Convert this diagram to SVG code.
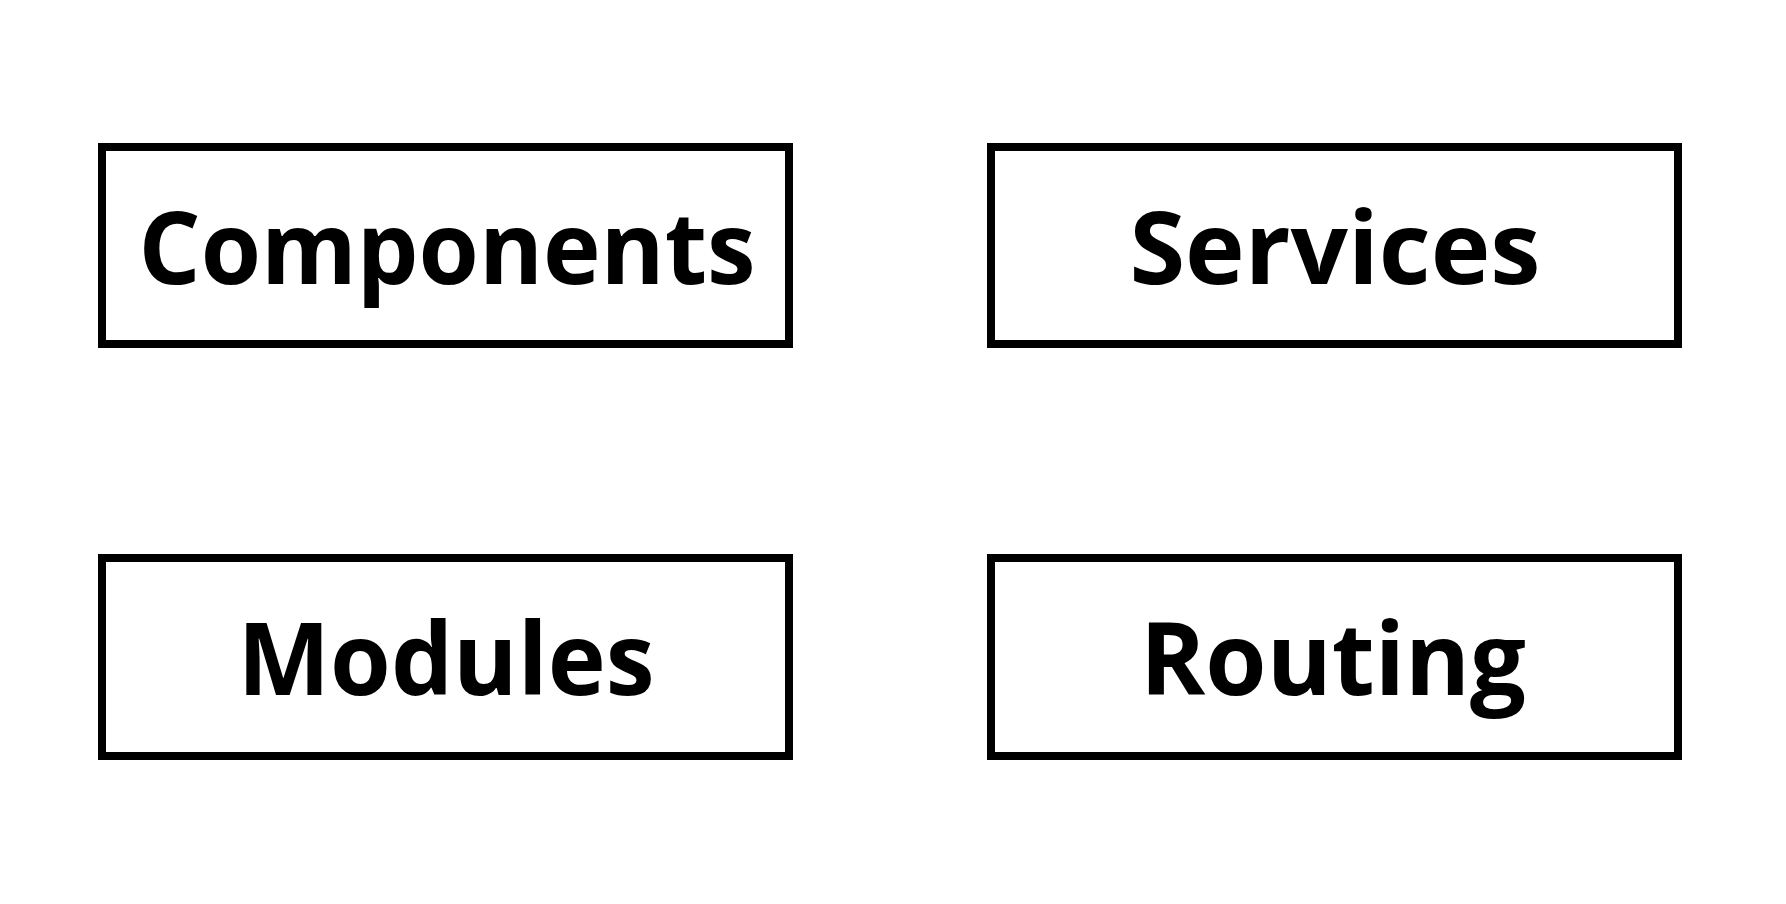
<svg xmlns="http://www.w3.org/2000/svg" width="1786" height="904" viewBox="0 0 1786 904">
<style>
.box{fill:#fff;stroke:#000;stroke-width:8}
.lbl{font-family:"Open Sans","Noto Sans",sans-serif;font-weight:700;font-size:100px;fill:#000;text-anchor:middle}
</style>
<rect width="1786" height="904" fill="#fff"/>
<g id="connectors"></g>
<g id="components"><rect class="box" x="102" y="147" width="687" height="197"/><text class="lbl" x="447" y="284" textLength="617" lengthAdjust="spacingAndGlyphs">Components</text></g>
<g id="services"><rect class="box" x="991" y="147" width="687" height="197"/><text class="lbl" x="1335" y="284" textLength="411" lengthAdjust="spacingAndGlyphs">Services</text></g>
<g id="modules"><rect class="box" x="102" y="558" width="687" height="198"/><text class="lbl" x="446" y="695" textLength="417" lengthAdjust="spacingAndGlyphs">Modules</text></g>
<g id="routing"><rect class="box" x="991" y="558" width="687" height="198"/><text class="lbl" x="1333" y="695" textLength="386" lengthAdjust="spacingAndGlyphs">Routing</text></g>
</svg>
